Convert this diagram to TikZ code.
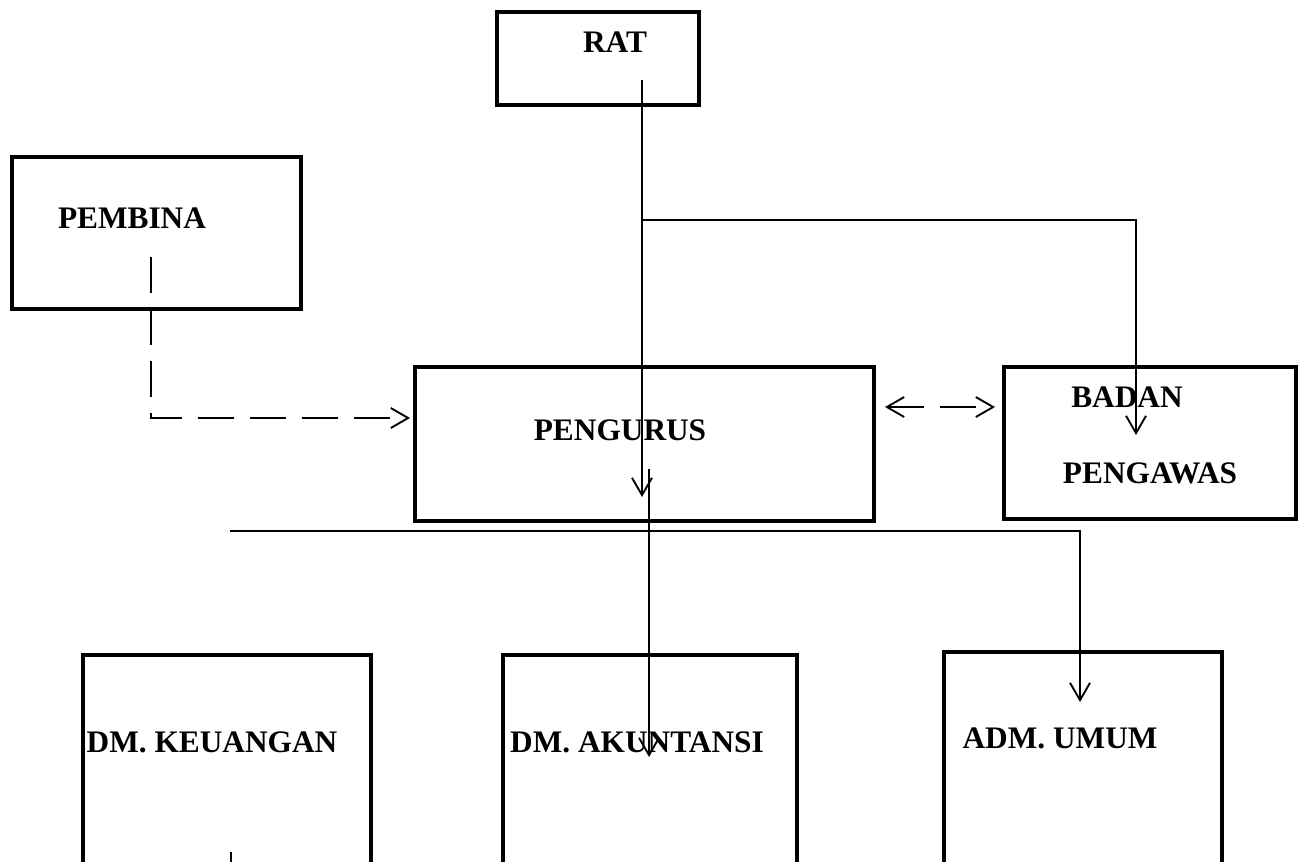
\documentclass[tikz,border=0pt]{standalone}
\usepackage{fontspec}
\setmainfont{Liberation Serif}
\usetikzlibrary{arrows.meta}

\tikzset{every picture/.style={line width=0.75pt}}
\tikzset{
  orgbox/.style={draw, line width=3.6pt, inner sep=0pt},
  orgtext/.style={inner sep=0.75pt, font=\fontsize{23.5}{28}\selectfont\bfseries},
  conn/.style={line width=1.4pt, -{Straight Barb[length=13pt,width=15pt,line width=1.4pt]}},
  connplain/.style={line width=1.4pt},
  dashconn/.style={line width=1.4pt, dash pattern=on 27pt off 12pt}
}

\begin{document}
\begin{tikzpicture}[x=0.75pt,y=0.75pt,yscale=-1,xscale=1]
\useasboundingbox (0,0) rectangle (1305,861);
\clip (0,0) rectangle (1305,861);

%Shape: Rectangle [id:rat]
\node [orgbox, minimum width=151.5pt, minimum height=69.75pt] (rat) at (598,58.5) {};
%Shape: Rectangle [id:pembina]
\node [orgbox, minimum width=216.75pt, minimum height=114pt] (pembina) at (156.5,233) {};
%Shape: Rectangle [id:pengurus]
\node [orgbox, minimum width=344.25pt, minimum height=115.5pt] (pengurus) at (644.5,444) {};
%Shape: Rectangle [id:pengawas]
\node [orgbox, minimum width=219pt, minimum height=114pt] (pengawas) at (1150,443) {};
%Shape: Rectangle [id:keuangan]
\node [orgbox, minimum width=216pt, minimum height=183.75pt] (keuangan) at (227,777.5) {};
%Shape: Rectangle [id:akuntansi]
\node [orgbox, minimum width=220.5pt, minimum height=183.75pt] (akuntansi) at (650,777.5) {};
%Shape: Rectangle [id:umum]
\node [orgbox, minimum width=208.5pt, minimum height=186pt] (umum) at (1083,776) {};

% Text Node
\node [orgtext] (ratlbl) at (615,42) {RAT};
% Text Node
\node [orgtext] (pembinalbl) at (132,218) {PEMBINA};
% Text Node
\node [orgtext] (penguruslbl) at (620,430) {PENGURUS};
% Text Node
\node [orgtext] (badanlbl) at (1127,397) {BADAN};
% Text Node
\node [orgtext] (pengawaslbl) at (1150,473) {PENGAWAS};
% Text Node
\node [orgtext] (keuanganlbl) at (212,742) {DM. KEUANGAN};
% Text Node
\node [orgtext] (akuntansilbl) at (637,742) {DM. AKUNTANSI};
% Text Node
\node [orgtext] (umumlbl) at (1060,738) {ADM. UMUM};

% connector ends
\coordinate (ratfoot) at (642,80);
\coordinate (ratsplit) at (642,220);
\coordinate (ratcorner) at (1136,220);
\coordinate (pengawasin) at (1136,435);
\coordinate (pengurusin) at (642,497);
\coordinate (pembinafoot) at (151,257);
\coordinate (pembinacorner) at (151,418);
\coordinate (pengurusleft) at (410,418);
\coordinate (pengurusright) at (885,407);
\coordinate (pengawasleft) at (995,407);
\coordinate (bagianleft) at (230,531);
\coordinate (bagiancorner) at (1080,531);
\coordinate (umumin) at (1080,702);
\coordinate (pengurusfoot) at (649,469);
\coordinate (akuntansiin) at (649,757);
\coordinate (keuangantick) at (231,852);
\coordinate (keuanganbase) at (231,875);

%Straight Lines [id:rat-pengurus]
\draw [conn] (ratfoot) -- (pengurusin);
%Straight Lines [id:rat-pengawas]
\draw [conn] (ratsplit) -- (ratcorner) -- (pengawasin);
%Straight Lines [id:pembina-pengurus]
\draw [dashconn, -{Straight Barb[length=13pt,width=15pt,line width=1.4pt]}] (pembinafoot) -- (pembinacorner) -- (pengurusleft);
%Straight Lines [id:pengurus-pengawas]
\draw [dashconn, {Straight Barb[length=13pt,width=15pt,line width=1.4pt]}-{Straight Barb[length=13pt,width=15pt,line width=1.4pt]}] (pengurusright) -- (pengawasleft);
%Straight Lines [id:bagian]
\draw [conn] (bagianleft) -- (bagiancorner) -- (umumin);
%Straight Lines [id:pengurus-akuntansi]
\draw [conn] (pengurusfoot) -- (akuntansiin);
%Straight Lines [id:keuangan]
\draw [connplain] (keuangantick) -- (keuanganbase);

\end{tikzpicture}
\end{document}
